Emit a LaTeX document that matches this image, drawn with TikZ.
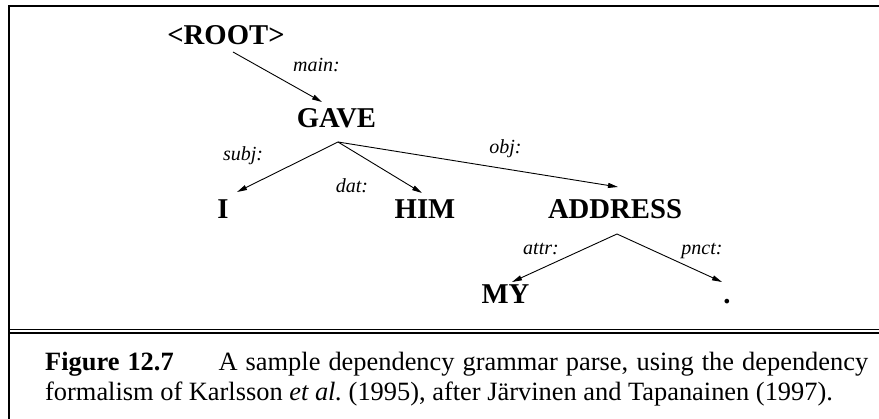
\documentclass[tikz,border=0pt]{standalone}
\usepackage{fontspec}
\setmainfont{Liberation Serif}
\usetikzlibrary{arrows.meta}
\begin{document}
\begin{tikzpicture}[x=1pt,y=-1pt,
  word/.style={font=\fontsize{28.7}{30}\selectfont\bfseries, inner sep=0pt, anchor=base},
  lab/.style={font=\fontsize{20}{22}\selectfont\itshape, inner sep=0pt, anchor=base},
  dep/.style={line width=0.9pt, -{Triangle[length=10pt,width=5pt]}},
  thickrule/.style={line width=2pt},
  thinrule/.style={line width=1pt}]
\useasboundingbox (0,0) rectangle (879,419);
% frame
\draw[thickrule] (9,419) -- (9,6) -- (879,6);
\draw[thinrule] (8,329.5) -- (879,329.5);
\draw[thickrule] (8,333) -- (879,333);
% words
\node[word] (root) at (226,45) {<ROOT>};
\node[word] (gave) at (336.5,128) {GAVE};
\node[word] (i) at (223,219) {I};
\node[word] (him) at (425,219) {HIM};
\node[word] (address) at (615,219) {ADDRESS};
\node[word] (my) at (505.5,304) {MY};
\node[word] (dot) at (727,304) {.};
% connector end points
\coordinate (rootout) at (233,52);
\coordinate (gavein) at (322,102);
\coordinate (gaveout) at (338,142);
\coordinate (iin) at (237,192);
\coordinate (himin) at (422,193);
\coordinate (addressin) at (618,187);
\coordinate (addressout) at (617,234);
\coordinate (myin) at (512,282);
\coordinate (dotin) at (722,282);
% connectors
\draw[dep] (rootout) -- (gavein);
\draw[dep] (gaveout) -- (iin);
\draw[dep] (gaveout) -- (himin);
\draw[dep] (gaveout) -- (addressin);
\draw[dep] (addressout) -- (myin);
\draw[dep] (addressout) -- (dotin);
% labels
\node[lab] (lmain) at (316.5,72) {main:};
\node[lab] (lsubj) at (243,161) {subj:};
\node[lab] (ldat) at (352,193) {dat:};
\node[lab] (lobj) at (505.5,154) {obj:};
\node[lab] (lattr) at (541,255) {attr:};
\node[lab] (lpnct) at (702,255) {pnct:};
% caption
\node[anchor=north west, inner sep=0pt, text width=823pt, align=justify,
      font=\fontsize{26.4}{30}\selectfont] (cap) at (45,352)
  {\textbf{Figure 12.7}\hspace{1.7em}A sample dependency grammar parse, using the dependency formalism of Karlsson \textit{et al.}\ (1995), after Järvinen and Tapanainen (1997).};
\end{tikzpicture}
\end{document}
